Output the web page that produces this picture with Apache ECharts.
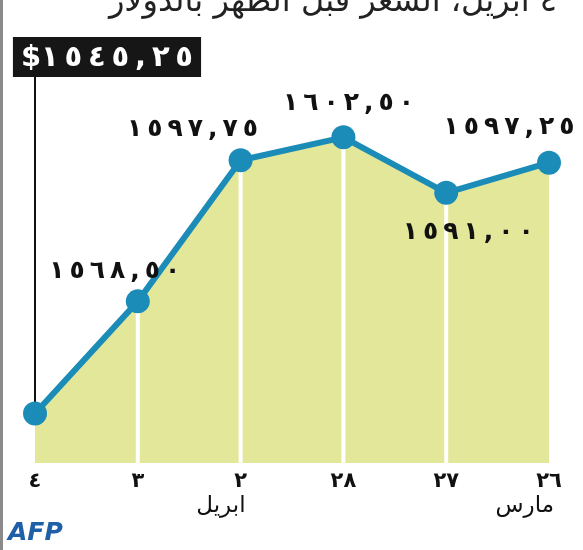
<!DOCTYPE html>
<html lang="ar">
<head>
    <meta charset="UTF-8">
    <title>Gold price</title>
    <script src="https://cdn.jsdelivr.net/npm/echarts@6/dist/echarts.min.js"></script>
    <style>
        html, body { margin: 0; padding: 0; background: #fff; }
        #main { width: 583px; height: 550px; }
    </style>
</head>
<body>
<div id="main"></div>
<script type="text/javascript">
    // days, right-to-left: 4 April ... 26 March
    var days = ['٤', '٣', '٢', '٢٨', '٢٧', '٢٦'];
    var months = ['', '', 'ابريل', '', '', 'مارس'];
    var prices = [1545.25, 1568.50, 1597.75, 1602.50, 1591.00, 1597.25];
    var titleText = '٤ ابريل، السعر قبل الظهر بالدولار';

    var blue = '#1b8cb8';
    var fill = '#e3e799';
    var font = 'DejaVu Sans';

    // 1597.75 -> ١٥٩٧,٧٥ (spaced out a bit like the print version)
    function arNum(v, gap) {
        var d = '٠١٢٣٤٥٦٧٨٩';
        var s = v.toFixed(2).replace(/[0-9]/g, function (c) { return d[+c]; }).replace('.', ',');
        if (gap) s = s.split('').join(gap);
        // force left-to-right so spaced digits keep their order
        return '\u202D' + s + '\u202C';
    }

    // label offsets around each point (first point uses the black box)
    var labelOffsets = [null, [-23, -30], [-48, -31], [5, -34], [22, 40], [-40, -35]];

    var lineData = prices.map(function (v, i) {
        var o = { value: v };
        if (labelOffsets[i]) {
            o.label = { show: true, position: 'inside', offset: labelOffsets[i] };
        } else {
            o.label = { show: false };
        }
        return o;
    });
    // white separators only under the inner points
    var sepData = prices.map(function (v, i) {
        return (i === 0 || i === prices.length - 1) ? '-' : v;
    });

    var myChart = echarts.init(document.getElementById('main'));
    var option = {
        backgroundColor: '#fff',
        animation: false,
        grid: { left: 35, right: 34, top: 77, bottom: 87 },
        xAxis: [
            {
                type: 'category',
                data: days,
                boundaryGap: false,
                axisLine: { show: false },
                axisTick: { show: false },
                axisLabel: {
                    interval: 0, margin: 8,
                    color: '#111', fontFamily: font, fontWeight: 'bold', fontSize: 21
                }
            },
            {
                type: 'category',
                data: days,
                position: 'bottom',
                boundaryGap: false,
                axisLine: { show: false },
                axisTick: { show: false },
                axisLabel: {
                    interval: 0, margin: 32, align: 'right',
                    padding: [0, -5, 0, 0],
                    color: '#111', fontFamily: font, fontSize: 23,
                    formatter: function (val, idx) { return months[idx]; }
                }
            }
        ],
        yAxis: {
            type: 'value',
            min: 1535,
            max: 1615,
            show: false,
            splitLine: { show: false }
        },
        series: [
            {
                // area only
                type: 'line',
                data: prices,
                symbol: 'none',
                lineStyle: { width: 0 },
                areaStyle: { color: fill, opacity: 1 },
                z: 1,
                silent: true
            },
            {
                type: 'bar',
                data: sepData,
                barWidth: 4,
                itemStyle: { color: '#fff' },
                z: 2,
                silent: true
            },
            {
                type: 'line',
                data: lineData,
                symbol: 'circle',
                symbolSize: 24,
                lineStyle: { color: blue, width: 6 },
                itemStyle: { color: blue },
                label: {
                    color: '#111', fontFamily: font, fontWeight: 'bold', fontSize: 25,
                    formatter: function (p) { return arNum(p.value, '\u2009'); }
                },
                z: 3,
                markLine: {
                    silent: true,
                    symbol: 'none',
                    lineStyle: { color: '#111', width: 2, type: 'solid' },
                    label: {
                        show: true,
                        position: 'end',
                        distance: 0,
                        offset: [72, 0],
                        formatter: '$' + arNum(prices[0], '\u2009'),
                        color: '#fff',
                        backgroundColor: '#161616',
                        fontFamily: font,
                        fontWeight: 'bold',
                        fontSize: 29,
                        padding: [7, 8, 4, 8]
                    },
                    data: [[{ coord: [0, prices[0]] }, { coord: [0, 1615] }]],
                    z: 0
                }
            }
        ],
        graphic: [
            {
                type: 'text',
                right: 26,
                top: -13,
                style: { text: titleText, fill: '#222', font: '32px "DejaVu Sans"' }
            },
            {
                type: 'text',
                left: 8,
                top: 521,
                style: { text: 'AFP', fill: '#1f5fa8', font: 'italic 900 25px "DejaVu Sans"' }
            },
            {
                type: 'rect',
                left: 0,
                top: 0,
                shape: { width: 3, height: 550 },
                style: { fill: '#8a8a8a' }
            }
        ]
    };
    myChart.setOption(option);
</script>
</body>
</html>
